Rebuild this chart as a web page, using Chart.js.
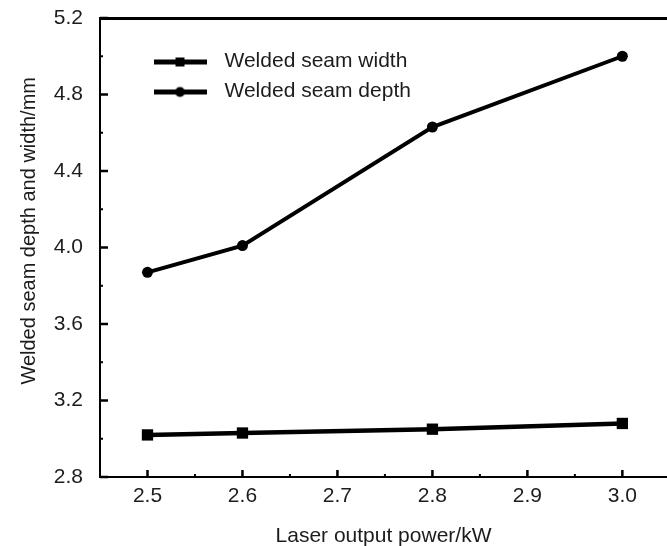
<!DOCTYPE html>
<html>
<head>
<meta charset="utf-8">
<script src="https://cdn.jsdelivr.net/npm/chart.js@4/dist/chart.umd.min.js"></script>
<style>
  html, body { margin: 0; padding: 0; background: #fff; overflow: hidden; }
  #wrap { width: 667px; height: 546px; position: relative; }
</style>
</head>
<body>
<div id="wrap"><canvas id="chart"></canvas></div>
<script>
// --- data ---
const power      = [2.5, 2.6, 2.8, 3.0];          // kW
const seamWidth  = [3.02, 3.03, 3.05, 3.08];      // mm
const seamDepth  = [3.87, 4.01, 4.63, 5.00];      // mm

const xTicks = [2.5, 2.6, 2.7, 2.8, 2.9, 3.0];
const xMinor = [2.55, 2.65, 2.75, 2.85, 2.95];
const yTicks = [2.8, 3.2, 3.6, 4.0, 4.4, 4.8, 5.2];
const yMinor = [3.0, 3.4, 3.8, 4.2, 4.6, 5.0];

const seriesNames = ['Welded seam width', 'Welded seam depth'];

const FONT = "'Liberation Sans', Arial, sans-serif";
const TEXT = '#1c1c1c';

// legend icon = short thick line with the marker in the middle
function legendIcon(shape) {
  const c = document.createElement('canvas');
  c.width = 53; c.height = 14;
  const g = c.getContext('2d');
  g.fillStyle = '#000';
  g.fillRect(0, 5, 53, 5);
  if (shape === 'rect') {
    g.fillRect(22, 3, 9, 9);
  } else {
    g.beginPath(); g.arc(26.5, 7.5, 5, 0, Math.PI * 2); g.fill();
  }
  return c;
}
const legendIcons = [legendIcon('rect'), legendIcon('circle')];

// inward tick marks + top frame line
const innerTicks = {
  id: 'innerTicks',
  afterDatasetsDraw(chart) {
    const { ctx, chartArea: a, scales: { x, y } } = chart;
    ctx.save();
    ctx.strokeStyle = '#000';
    ctx.lineWidth = 3;
    ctx.beginPath();
    ctx.moveTo(a.left, a.top + 0.5);
    ctx.lineTo(a.right, a.top + 0.5);
    ctx.stroke();

    ctx.lineWidth = 2.5;
    ctx.beginPath();
    xTicks.forEach(v => { const p = x.getPixelForValue(v); ctx.moveTo(p, a.bottom); ctx.lineTo(p, a.bottom - 7); });
    yTicks.forEach(v => { const p = y.getPixelForValue(v); ctx.moveTo(a.left, p); ctx.lineTo(a.left + 8, p); });
    ctx.stroke();
    ctx.lineWidth = 2;
    ctx.beginPath();
    xMinor.forEach(v => { const p = x.getPixelForValue(v); ctx.moveTo(p, a.bottom); ctx.lineTo(p, a.bottom - 3); });
    yMinor.forEach(v => { const p = y.getPixelForValue(v); ctx.moveTo(a.left, p); ctx.lineTo(a.left + 3, p); });
    ctx.stroke();
    ctx.restore();
  }
};

// put the legend in the upper left of the plot
const legendSpot = {
  id: 'legendSpot',
  afterLayout(chart) {
    const lg = chart.legend;
    lg.left = 137;
    lg.top = 42;
    lg.right = lg.left + 330;
    lg.bottom = lg.top + 120;
  }
};

const ctx = document.getElementById('chart').getContext('2d');

new Chart(ctx, {
  type: 'line',
  data: {
    datasets: [
      {
        label: seriesNames[0],
        data: power.map((p, i) => ({ x: p, y: seamWidth[i] })),
        borderColor: '#000',
        backgroundColor: '#000',
        borderWidth: 4.5,
        pointStyle: 'rect',
        pointRadius: 8,
        pointBackgroundColor: '#000',
        pointBorderWidth: 0,
        tension: 0
      },
      {
        label: seriesNames[1],
        data: power.map((p, i) => ({ x: p, y: seamDepth[i] })),
        borderColor: '#000',
        backgroundColor: '#000',
        borderWidth: 4,
        pointStyle: 'circle',
        pointRadius: 5.5,
        pointBackgroundColor: '#000',
        pointBorderWidth: 0,
        tension: 0
      }
    ]
  },
  options: {
    responsive: true,
    maintainAspectRatio: false,
    animation: false,
    devicePixelRatio: 1,
    layout: { autoPadding: false, padding: { top: 18, right: 0, left: 0, bottom: 0 } },
    plugins: {
      tooltip: { enabled: false },
      legend: {
        position: 'chartArea',
        align: 'start',
        labels: {
          usePointStyle: true,
          pointStyleWidth: 68,
          padding: 9,
          color: TEXT,
          font: { family: FONT, size: 21 },
          generateLabels(chart) {
            const items = Chart.defaults.plugins.legend.labels.generateLabels(chart);
            items.forEach((it, i) => { it.pointStyle = legendIcons[i]; });
            return items;
          }
        }
      }
    },
    scales: {
      x: {
        type: 'linear',
        min: 2.45,
        max: 3.047,
        afterBuildTicks: s => { s.ticks = xTicks.map(v => ({ value: v })); },
        afterFit: s => { s.height = 69; s.paddingLeft = 0; s.paddingRight = 0; },
        grid: { display: false, drawTicks: false, tickLength: 0 },
        border: { display: true, color: '#000', width: 2 },
        ticks: {
          color: TEXT,
          padding: 7,
          font: { family: FONT, size: 21 },
          callback: v => v.toFixed(1)
        },
        title: {
          display: true,
          text: 'Laser output power/kW',
          color: TEXT,
          font: { family: FONT, size: 21 },
          padding: { top: 0, bottom: -3 }
        }
      },
      y: {
        type: 'linear',
        min: 2.8,
        max: 5.2,
        afterBuildTicks: s => { s.ticks = yTicks.map(v => ({ value: v })); },
        afterFit: s => { s.width = 100; s.paddingTop = 0; s.paddingBottom = 0; },
        grid: { display: false, drawTicks: false, tickLength: 0 },
        border: { display: true, color: '#000', width: 2 },
        ticks: {
          color: TEXT,
          padding: 17,
          font: { family: FONT, size: 21 },
          callback: v => v.toFixed(1)
        },
        title: {
          display: true,
          text: '      Welded seam depth and width/mm',
          color: TEXT,
          font: { family: FONT, size: 20 },
          padding: { top: 17, bottom: 0 }
        }
      }
    }
  },
  plugins: [innerTicks, legendSpot]
});
</script>
</body>
</html>
